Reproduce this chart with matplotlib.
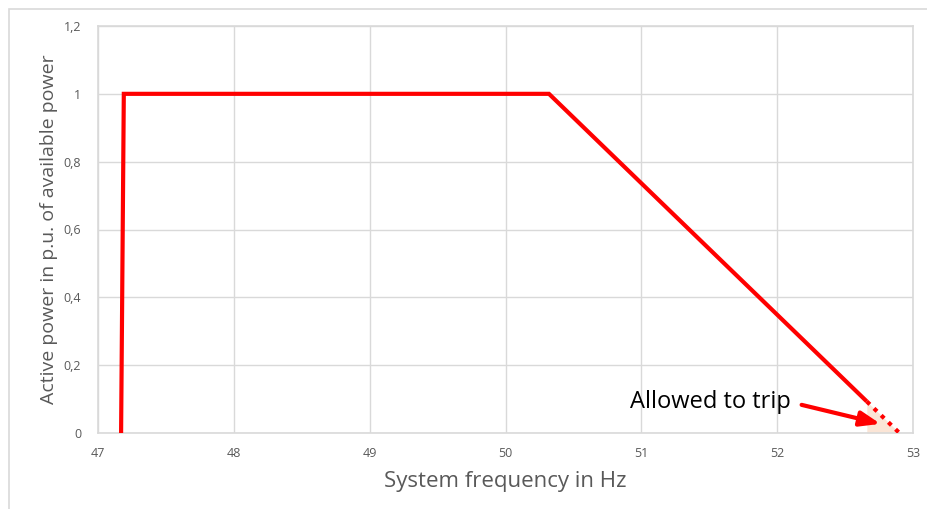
import matplotlib
matplotlib.use("Agg")
import matplotlib.pyplot as plt
from matplotlib.patches import Rectangle
from matplotlib.ticker import FuncFormatter

# Data
freq_solid = [47.17, 47.19, 50.32, 52.66]
power_solid = [0.0, 1.0, 1.0, 0.093]
freq_trip = [52.66, 52.9]
power_trip = [0.093, 0.0]
x_ticks = [47, 48, 49, 50, 51, 52, 53]
y_ticks = [0, 0.2, 0.4, 0.6, 0.8, 1.0, 1.2]

plt.rcParams['font.family'] = ['Open Sans', 'DejaVu Sans']

fig = plt.figure(figsize=(9.28, 5.09), dpi=100)
W, H = 928, 509
ax = fig.add_axes([98 / W, (H - 433) / H, (913 - 98) / W, (433 - 26) / H])

grid_c = '#d9d9d9'
ax.set_xlim(47, 53)
ax.set_ylim(0, 1.2)
ax.set_xticks(x_ticks)
ax.set_yticks(y_ticks)
ax.grid(True, color=grid_c, linewidth=1)
ax.set_axisbelow(True)
for s in ax.spines.values():
    s.set_color(grid_c)
    s.set_linewidth(1.2)
ax.tick_params(length=0, colors='#595959', labelsize=9)
ax.tick_params(axis='y', pad=12)
ax.tick_params(axis='x', pad=10)
ax.yaxis.set_major_formatter(FuncFormatter(lambda v, p: ('%g' % v).replace('.', ',')))

# shaded trip region
ax.fill_between(freq_trip, power_trip, 0, color='#fbe5d6', linewidth=0, zorder=2)

ax.plot(freq_solid, power_solid, color='#ff0000', linewidth=3, solid_joinstyle='miter',
        solid_capstyle='butt', zorder=3)
ax.plot(freq_trip, power_trip, color='#ff0000', linewidth=3, linestyle=(0, (1, 1.4)),
        zorder=3)

ax.annotate('', xy=(52.76, 0.027), xytext=(52.18, 0.083),
            arrowprops=dict(arrowstyle='-|>,head_length=1.2,head_width=0.45',
                            color='#ff0000', lw=3, shrinkA=0, shrinkB=0), zorder=4)
ax.text(52.10, 0.09, 'Allowed to trip', fontsize=17, color='black',
        ha='right', va='center', zorder=4)

ax.set_xlabel('System frequency in Hz', fontsize=16, color='#595959', labelpad=8)
ax.set_ylabel('Active power in p.u. of available power', fontsize=14, color='#595959',
              labelpad=4)

# outer chart border
fig.patches.append(Rectangle((9 / W, -0.01), 1.0, (H - 8.5) / H + 0.01,
                             transform=fig.transFigure, fill=False,
                             edgecolor=grid_c, linewidth=1.2))

fig.savefig('out.png', dpi=100, facecolor='white')
